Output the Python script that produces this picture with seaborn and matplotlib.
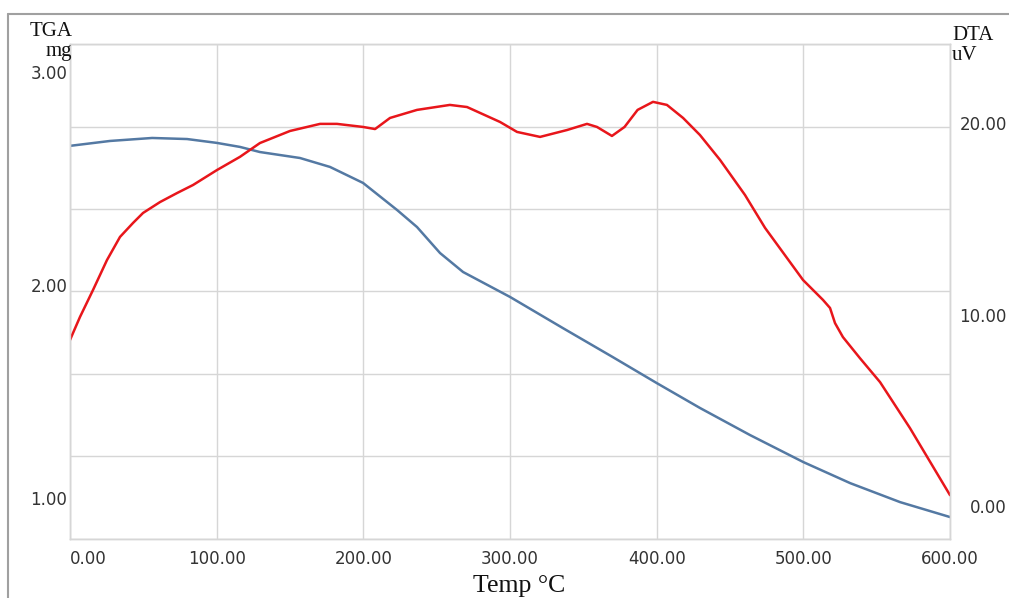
import numpy as np
import matplotlib.pyplot as plt
import seaborn as sns
from matplotlib.lines import Line2D

# TGA curve (mg)
temp_tga = [0, 27.3, 56, 79.8, 100, 115.9, 129.5, 156.8, 177.3, 199.8, 223, 236.6,
            252.3, 268, 300, 336, 370, 400, 429.5, 463.6, 500, 532, 566, 600]
tga = [2.653, 2.676, 2.690, 2.685, 2.667, 2.648, 2.624, 2.596, 2.554, 2.479, 2.352, 2.272,
       2.150, 2.061, 1.944, 1.798, 1.662, 1.540, 1.423, 1.296, 1.169, 1.070, 0.981, 0.911]

# DTA curve (uV)
temp_dta = [0, 6.8, 15.7, 25.2, 34.1, 43, 49.8, 61.4, 73, 83.9, 100.2, 115.9, 129.5, 150,
            170.5, 182, 199.8, 208, 218.2, 236.6, 259, 270.7, 293.2, 304.8, 320.5, 338.9,
            352.5, 359.3, 369.5, 378.1, 387, 397.5, 407, 418, 429.5, 443.2, 460.2, 473.9,
            499.8, 513.4, 518.2, 521.6, 527, 538.6, 552.3, 572.7, 600]
dta = [8.68, 9.88, 11.29, 12.85, 14.06, 14.79, 15.31, 15.88, 16.35, 16.77, 17.55, 18.24, 18.96,
       19.59, 19.96, 19.96, 19.80, 19.69, 20.27, 20.69, 20.95, 20.84, 20.06, 19.54, 19.28, 19.64,
       19.96, 19.80, 19.33, 19.80, 20.69, 21.11, 20.95, 20.27, 19.38, 18.08, 16.25, 14.53,
       11.81, 10.77, 10.35, 9.56, 8.83, 7.73, 6.48, 4.08, 0.58]

x_ticks = [0, 100, 200, 300, 400, 500, 600]
tga_ticks = [1, 2, 3]
dta_ticks = [0, 10, 20]

sns.set_style("white")
plt.rcParams['font.family'] = ['DejaVu Sans']

W, H = 1009, 598
fig = plt.figure(figsize=(W / 100, H / 100), dpi=100)
ax = fig.add_axes([70 / W, 1 - 539 / H, 880 / W, 495 / H])
ax2 = ax.twinx()

sns.lineplot(x=temp_tga, y=tga, ax=ax, color='#5479a3', lw=1.8, sort=False, estimator=None)
sns.lineplot(x=temp_dta, y=dta, ax=ax2, color='#e8161b', lw=1.8, sort=False, estimator=None)

ax.set_xlim(0, 600)
ax.set_ylim(0.808, 3.131)
ax2.set_ylim(-1.71, 24.13)

grid_c = '#d6d6d6'
tick_c = '#333333'

ax.set_xticks(x_ticks, labels=[f"{t:.2f}" for t in x_ticks])
ax.set_yticks(tga_ticks, labels=[f"{t:.2f}" for t in tga_ticks])
ax.set_yticks(np.linspace(0.808, 3.131, 7), minor=True)
ax2.set_yticks(dta_ticks, labels=[f"{t:.2f}" for t in dta_ticks])

ax.grid(which='minor', axis='y', color=grid_c, lw=1)
ax.grid(which='major', axis='x', color=grid_c, lw=1)
ax.grid(which='major', axis='y', visible=False)
ax.set_axisbelow(True)

ax.tick_params(axis='x', which='both', length=0, pad=8, labelsize=12, labelcolor=tick_c)
ax.tick_params(axis='y', which='both', length=0, pad=2, labelsize=12, labelcolor=tick_c)
ax2.tick_params(axis='y', length=0, pad=41, labelsize=12, labelcolor=tick_c)
plt.setp(ax2.get_yticklabels(), ha='right')
ax.get_xticklabels()[0].set_ha('left')

ax.set_xlabel("")
ax.set_ylabel("")
ax2.set_ylabel("")
for a in (ax, ax2):
    for s in a.spines.values():
        s.set_color(grid_c)
        s.set_linewidth(1)

# axis titles
serif = 'Liberation Serif'
fig.text(51 / W, 1 - 36 / H, "TGA", ha='center', va='baseline', fontsize=15, family=serif, color='#111111')
fig.text(72 / W, 1 - 56 / H, "mg", ha='right', va='baseline', fontsize=15, family=serif, color='#111111')
fig.text(952 / W, 1 - 40 / H, "DTA", ha='left', va='baseline', fontsize=15, family=serif, color='#111111')
fig.text(952 / W, 1 - 60 / H, "uV", ha='left', va='baseline', fontsize=15, family=serif, color='#111111')
fig.text(519 / W, 1 - 592 / H, "Temp °C", ha='center', va='baseline', fontsize=18.5, family=serif, color='#111111')

# outer frame
fig.add_artist(Line2D([8 / W, 1], [1 - 14 / H, 1 - 14 / H], color='#a0a0a0', lw=1.5))
fig.add_artist(Line2D([8 / W, 8 / W], [0, 1 - 14 / H], color='#a0a0a0', lw=1.5))

fig.savefig("out.png", dpi=100)
